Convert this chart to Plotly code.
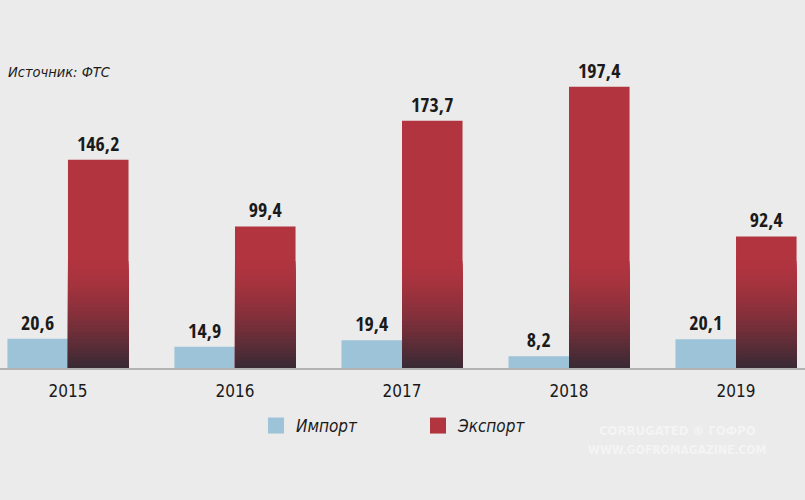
import plotly.graph_objects as go

YEARS = ["2015", "2016", "2017", "2018", "2019"]
IMPORT = [20.6, 14.9, 19.4, 8.2, 20.1]
EXPORT = [146.2, 99.4, 173.7, 197.4, 92.4]

BG = "#ebebeb"
IMP_COLOR = "#9dc3d9"
EXP_TOP = (177, 52, 63)
EXP_BOTTOM = (58, 42, 52)
BOLD_FONT = "Open Sans Condensed, DejaVu Sans Condensed, sans-serif"
FONT = "DejaVu Sans Condensed, sans-serif"

GRAD_HEIGHT = 75  # height (data units) of the dark fade at the foot of export bars
GRAD_STEPS = 30


def fmt(v):
    return ("%.1f" % v).replace(".", ",")


def mix(a, b, t):
    return "rgb(%d,%d,%d)" % tuple(round(a[i] + (b[i] - a[i]) * t) for i in range(3))


fig = go.Figure()

fig.add_trace(
    go.Bar(
        x=YEARS, y=IMPORT, offsetgroup="imp",
        marker=dict(color=IMP_COLOR, line_width=0),
        text=[fmt(v) for v in IMPORT], textposition="outside",
        textfont=dict(family=BOLD_FONT, size=20, color="#1a1a1a", weight="bold"),
        showlegend=False, hoverinfo="skip",
    )
)
fig.add_trace(
    go.Bar(
        x=YEARS, y=EXPORT, offsetgroup="exp",
        marker=dict(color=mix(EXP_TOP, EXP_TOP, 0), line_width=0),
        text=[fmt(v) for v in EXPORT], textposition="outside",
        textfont=dict(family=BOLD_FONT, size=20, color="#1a1a1a", weight="bold"),
        showlegend=False, hoverinfo="skip",
    )
)

# gradient: shorter, darker bars laid over the export bars in the same slot
for k in range(GRAD_STEPS):
    h = GRAD_HEIGHT * (1 - k / GRAD_STEPS)
    t = ((k + 1) / GRAD_STEPS) ** 1.5
    fig.add_trace(
        go.Bar(
            x=YEARS, y=[min(v, h) for v in EXPORT], offsetgroup="exp",
            marker=dict(color=mix(EXP_TOP, EXP_BOTTOM, t), line_width=0),
            showlegend=False, hoverinfo="skip",
        )
    )

# legend entries
for name, color in [("Импорт", IMP_COLOR), ("Экспорт", "#b1343f")]:
    fig.add_trace(
        go.Scatter(x=[None], y=[None], mode="markers", name=name,
                   marker=dict(symbol="square", size=16, color=color))
    )

fig.add_annotation(
    text="<i>Источник: ФТС</i>", xref="paper", yref="paper",
    x=0.008, y=1 - 72 / 368, xanchor="left", yanchor="middle", showarrow=False,
    font=dict(family=FONT, size=14.5, color="#1a1a1a"),
)

# faint watermark
fig.add_annotation(
    text="<b>CORRUGATED ® ГОФРО</b>", xref="paper", yref="paper",
    x=677 / 805, y=-62 / 368, xanchor="center", yanchor="middle", showarrow=False,
    font=dict(family=FONT, size=13, color="#f4f4f4"),
)
fig.add_annotation(
    text="<b>WWW.GOFROMAGAZINE.COM</b>", xref="paper", yref="paper",
    x=677 / 805, y=-82 / 368, xanchor="center", yanchor="middle", showarrow=False,
    font=dict(family=FONT, size=12, color="#f4f4f4"),
)

fig.update_layout(
    width=805, height=500, paper_bgcolor=BG, plot_bgcolor=BG,
    margin=dict(l=0, r=0, t=0, b=132),
    barmode="group", bargap=0.275, bargroupgap=0,
    showlegend=True,
    legend=dict(
        orientation="h", x=256 / 805, y=-58 / 368, xanchor="left", yanchor="middle",
        font=dict(family=FONT, size=17, color="#1a1a1a", style="italic"),
        itemsizing="trace", entrywidth=117, bgcolor="rgba(0,0,0,0)",
    ),
)
fig.update_xaxes(
    range=[-0.407, 4.413], showline=True, linecolor="#b3b3b3", linewidth=2,
    showgrid=False, ticks="", ticklabelstandoff=7,
    tickfont=dict(family=FONT, size=17, color="#1a1a1a"),
)
fig.update_yaxes(range=[0, 258.4], visible=False)
fig.update_traces(cliponaxis=False, selector=dict(type="bar"))

fig.write_html(
    "out.html",
    config={"displayModeBar": False},
    post_script="document.body.style.margin='0';document.body.style.background='%s';" % BG,
)
